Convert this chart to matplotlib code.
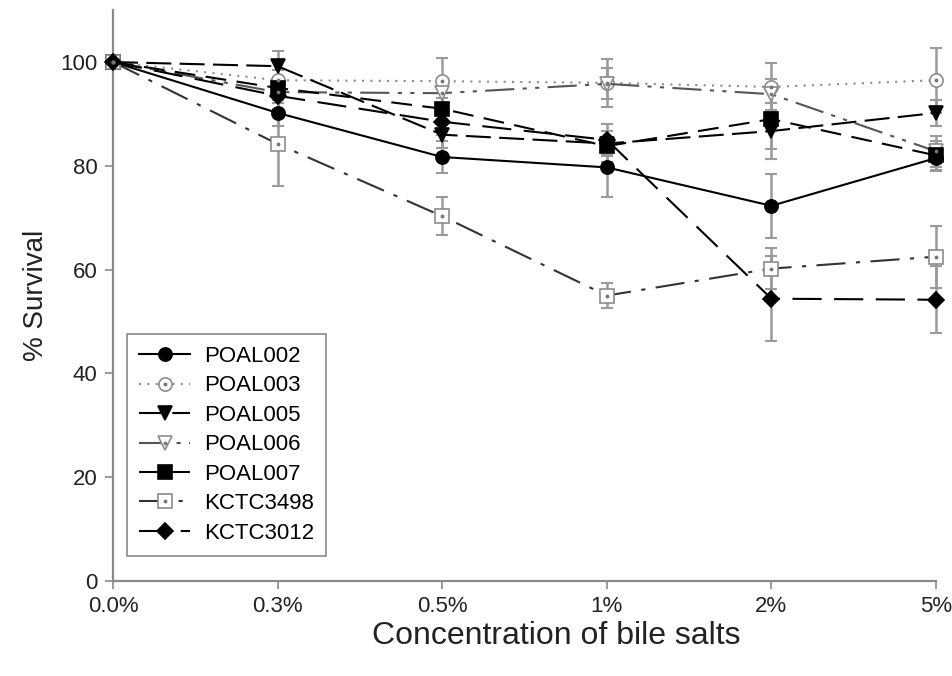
import numpy as np
import matplotlib
matplotlib.use("Agg")
import matplotlib.pyplot as plt
from matplotlib.legend_handler import HandlerTuple

plt.rcParams['font.family'] = ['Liberation Sans', 'DejaVu Sans']

conc = ['0.0%', '0.3%', '0.5%', '1%', '2%', '5%']

poal002 = [100, 90.2, 81.7, 79.7, 72.3, 81.5]
poal003 = [100, 96.5, 96.3, 96.0, 95.2, 96.5]
poal005 = [100, 99.2, 86.0, 84.3, 86.7, 90.2]
poal006 = [100, 94.2, 94.0, 95.8, 93.8, 82.8]
poal007 = [100, 95.0, 91.0, 83.8, 89.0, 82.0]
kctc3498 = [100, 84.2, 70.3, 55.0, 60.2, 62.5]
kctc3012 = [100, 93.5, 88.5, 85.0, 54.4, 54.2]

err002 = [0, 2.5, 3.0, 5.8, 6.2, 2.5]
err003 = [0, 2.0, 4.4, 4.6, 4.6, 6.3]
err005 = [0, 3.0, 2.5, 2.5, 5.4, 2.5]
err006 = [0, 2.0, 2.0, 3.0, 3.0, 3.0]
err007 = [0, 2.0, 2.0, 3.0, 5.7, 2.8]
err3498 = [0, 8.0, 3.6, 2.4, 3.9, 6.0]
err3012 = [0, 2.5, 2.5, 3.0, 8.2, 6.5]

x = np.arange(len(conc))

# label, values, error, linestyle, line colour, marker, face, edge, centre dot
series = [
	("POAL002", poal002, err002, '-', 'k', 'o', 'k', 'k', False),
	("POAL003", poal003, err003, (0, (1, 3)), '#8c8c8c', 'o', 'white', '#8c8c8c', True),
	("POAL005", poal005, err005, (0, (12, 4)), 'k', 'v', 'k', 'k', False),
	("POAL006", poal006, err006, (0, (14, 4, 2, 4, 2, 4)), '#555555', 'v', 'white', '#8c8c8c', True),
	("POAL007", poal007, err007, (0, (10, 5)), 'k', 's', 'k', 'k', False),
	("KCTC3498", kctc3498, err3498, (0, (14, 5, 2, 5)), '#333333', 's', 'white', '#8c8c8c', True),
	("KCTC3012", kctc3012, err3012, (0, (14, 6)), 'k', 'D', 'k', 'k', False),
]

fig = plt.figure(figsize=(9.52, 6.76), dpi=100)
ax = fig.add_axes([0.1187, 0.1405, 0.8645, 0.8445])

for lab, y, e, ls, col, mk, fc, ec, dot in series:
	eb = ax.errorbar(x[1:], y[1:], yerr=e[1:], fmt='none', ecolor='#9a9a9a',
					 elinewidth=1.8, capsize=4.5, capthick=1.5, zorder=1)
	for c in eb.get_children():
		c.set_clip_on(False)

handles = []
labels = []
for lab, y, e, ls, col, mk, fc, ec, dot in series:
	ms = 8 if mk == 'D' else 9.5
	ln, = ax.plot(x, y, linestyle=ls, color=col, linewidth=1.5, marker=mk,
				  markersize=ms, markerfacecolor=fc, markeredgecolor=ec,
				  markeredgewidth=1.2, clip_on=False, zorder=3)
	if dot:
		dt, = ax.plot(x, y, linestyle='none', marker='.', markersize=3.5,
					  color='#777777', clip_on=False, zorder=4)
		handles.append((ln, dt))
	else:
		handles.append(ln)
	labels.append(lab)

ax.set_xlim(0, 5)
ax.set_ylim(0, 110)
ax.set_yticks([0, 20, 40, 60, 80, 100])
ax.set_xticks(x)
ax.set_xticklabels(conc)

for s in ['top', 'right']:
	ax.spines[s].set_visible(False)
for s in ['left', 'bottom']:
	ax.spines[s].set_color('#8a8a8a')
	ax.spines[s].set_linewidth(1.6)
ax.tick_params(direction='out', length=6, width=1.2, color='#8a8a8a',
			   labelsize=16, labelcolor='#222222', pad=5)

ax.set_xlabel("Concentration of bile salts", fontsize=23, color='#222222')
ax.xaxis.set_label_coords(0.539, -0.07)
ax.set_ylabel("% Survival", fontsize=20, color='#222222', labelpad=8)

leg = ax.legend(handles, labels, handler_map={tuple: HandlerTuple(ndivide=1)},
				loc='lower left', bbox_to_anchor=(0.017, 0.044), borderaxespad=0,
				fontsize=16, handlelength=2.3, handletextpad=0.6, labelspacing=0.38,
				borderpad=0.55, fancybox=False, framealpha=1)
leg.get_frame().set_edgecolor('#8a8a8a')
leg.get_frame().set_linewidth(1.2)

fig.savefig("out.png", dpi=100)
